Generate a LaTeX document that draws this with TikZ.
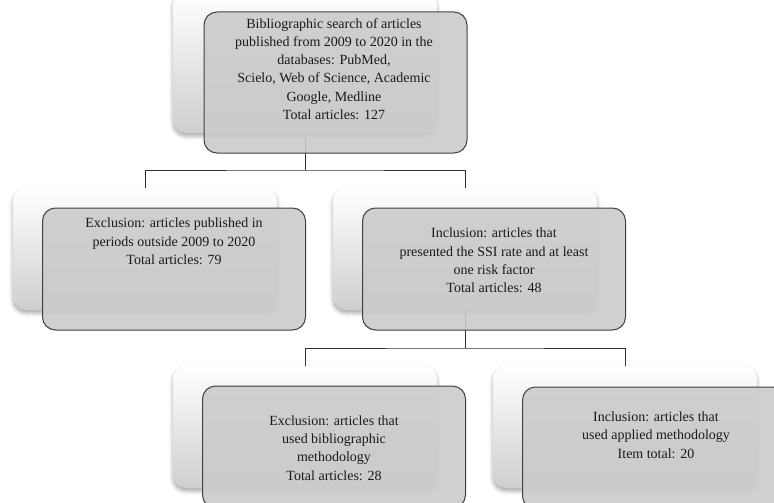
\documentclass[tikz,border=0pt]{standalone}
\usepackage{fontspec}
\setmainfont{Liberation Serif}
\usetikzlibrary{shadows.blur}
\definecolor{boxline}{HTML}{404040}
\definecolor{boxfill}{HTML}{CBCBCB}
\definecolor{conn}{HTML}{303030}
\definecolor{txt}{HTML}{1A1A1A}
\tikzset{
  backcard/.style={rectangle, rounded corners=13pt, minimum width=264pt, minimum height=122pt,
    top color=white, bottom color=gray!38, draw=none, inner sep=0pt,
    blur shadow={shadow xshift=0pt, shadow yshift=-3pt, shadow blur radius=4pt, shadow opacity=35}},
  frontcard/.style={rectangle, rounded corners=13pt, minimum width=263pt, minimum height=122pt,
    fill=boxfill, fill opacity=0.9, draw=boxline, line width=1pt, inner sep=0pt},
  cardtext/.style={align=center, inner sep=0pt, text=txt, font=\fontsize{14}{18.3}\selectfont},
  link/.style={draw=conn, line width=0.9pt},
}
\begin{document}
\begin{tikzpicture}[x=1pt,y=1pt]
\useasboundingbox (0,0) rectangle (774,-503);
\clip (0,0) rectangle (774,-503);
% back cards
\node[backcard, minimum height=141pt] (b1) at (305,-62.5) {};
\node[backcard] (b2) at (145,-249) {};
\node[backcard] (b3) at (465,-249) {};
\node[backcard] (b4) at (305,-427) {};
\node[backcard] (b5) at (625,-427) {};
% connectors
\coordinate (j1) at (305,-170);
\coordinate (j2) at (465,-348);
\draw[link] (b1.south) -- (j1);
\draw[link] (b2.north) |- (j1) -| (b3.north);
\draw[link] (b3.south) -- (j2);
\draw[link] (b4.north) |- (j2) -| (b5.north);
% front cards
\node[frontcard, minimum height=141pt] (f1) at (335.5,-82.5) {};
\node[frontcard] (f2) at (174,-269) {};
\node[frontcard] (f3) at (494,-269) {};
\node[frontcard] (f4) at (334,-447) {};
\node[frontcard] (f5) at (654,-448) {};
% texts
\node[cardtext] (t1) at (334,-69) {Bibliographic search of articles\\published from 2009 to 2020 in the\\databases: PubMed,\\Scielo, Web of Science, Academic\\Google, Medline\\Total articles: 127};
\node[cardtext] (t2) at (174,-241.5) {Exclusion: articles published in\\periods outside 2009 to 2020\\Total articles: 79};
\node[cardtext] (t3) at (494,-260.5) {Inclusion: articles that\\presented the SSI rate and at least\\one risk factor\\Total articles: 48};
\node[cardtext] (t4) at (334,-448) {Exclusion: articles that\\used bibliographic\\methodology\\Total articles: 28};
\node[cardtext] (t5) at (656,-435) {Inclusion: articles that\\used applied methodology\\Item total: 20};
\end{tikzpicture}
\end{document}
